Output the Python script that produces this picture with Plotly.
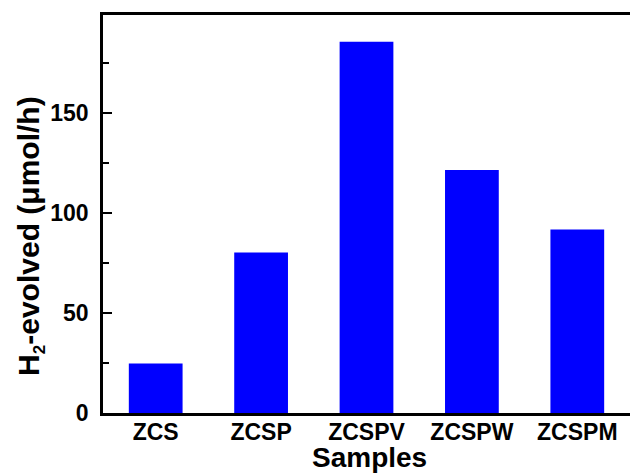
import plotly.graph_objects as go

categories = ["ZCS", "ZCSP", "ZCSPV", "ZCSPW", "ZCSPM"]
values = [24.8, 80.3, 185.6, 121.5, 91.8]
y_ticks = [0, 50, 100, 150]
y_minor = [25, 75, 125, 175]

FONT = "Liberation Sans, Arial, sans-serif"

fig = go.Figure(
    go.Bar(
        x=categories,
        y=values,
        marker=dict(color="#0000FF", line=dict(width=0)),
        width=0.51,
    )
)

fig.update_layout(
    width=630,
    height=475,
    margin=dict(l=103, r=0, t=15, b=62),
    paper_bgcolor="white",
    plot_bgcolor="white",
    showlegend=False,
    font=dict(family=FONT, color="black", size=23, weight="bold"),
)

fig.update_xaxes(
    range=[-0.5, 4.5],
    showline=True,
    linecolor="black",
    linewidth=2.5,
    mirror=True,
    ticks="",
    showgrid=False,
    zeroline=False,
    tickfont=dict(family=FONT, size=23, color="black", weight="bold"),
    ticklabelstandoff=-3,
)

fig.update_yaxes(
    range=[0, 199],
    showline=True,
    linecolor="black",
    linewidth=2.5,
    mirror=False,
    ticks="inside",
    ticklen=9,
    tickwidth=1.8,
    tickcolor="black",
    tickvals=y_ticks,
    ticktext=[str(v) for v in y_ticks],
    minor=dict(ticks="inside", ticklen=6, tickwidth=1.8, tickcolor="black",
               tickvals=y_minor),
    showgrid=False,
    zeroline=False,
    tickfont=dict(family=FONT, size=23, color="black", weight="bold"),
    ticklabelstandoff=7,
)

fig.add_annotation(
    text="Samples",
    xref="paper", yref="paper",
    x=0.5, y=0,
    xanchor="center", yanchor="top",
    yshift=-27,
    xshift=3,
    showarrow=False,
    font=dict(family=FONT, size=28, color="black", weight="bold"),
)

fig.add_annotation(
    text="H<sub><span style='font-size:17px'>2</span></sub>-evolved (μmol/h)",
    xref="paper", yref="paper",
    x=0, y=0.445,
    xanchor="center", yanchor="middle",
    xshift=-72,
    textangle=-90,
    showarrow=False,
    font=dict(family=FONT, size=30, color="black", weight="bold"),
)

fig.write_html("out.html")
